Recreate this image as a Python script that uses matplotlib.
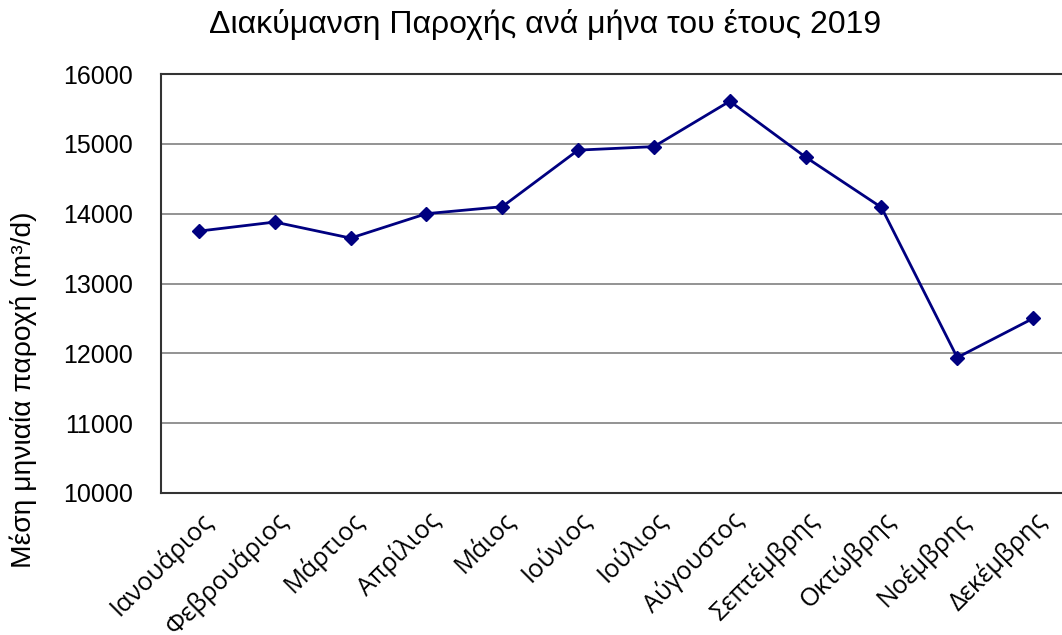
import matplotlib
matplotlib.use("Agg")
import matplotlib.pyplot as plt

months = ["Ιανουάριος", "Φεβρουάριος", "Μάρτιος", "Απρίλιος", "Μάιος", "Ιούνιος",
          "Ιούλιος", "Αύγουστος", "Σεπτέμβρης", "Οκτώβρης", "Νοέμβρης", "Δεκέμβρης"]
flow = [13750, 13880, 13650, 14000, 14100, 14910,
        14960, 15610, 14810, 14090, 11940, 12500]
yticks = [10000, 11000, 12000, 13000, 14000, 15000, 16000]

plt.rcParams['font.family'] = ['Liberation Sans', 'DejaVu Sans']

fig = plt.figure(figsize=(10.62, 6.35), dpi=100)
ax = fig.add_axes([161/1062, 1 - 493/635, (1071 - 161)/1062, (493 - 74)/635])

x = list(range(len(months)))
ax.plot(x, flow, color='#000080', lw=2, marker='D', ms=7.5)

ax.set_xlim(-0.5, len(months) - 0.5)
ax.set_ylim(10000, 16000)
ax.set_yticks(yticks)
ax.yaxis.grid(True, color='#808080', lw=1.2)
ax.set_axisbelow(True)
ax.tick_params(axis='y', labelsize=18, length=0, pad=20)
ax.tick_params(axis='x', length=0, pad=10)
ax.set_xticks(x)
ax.set_xticklabels(months, rotation=45, ha='right', rotation_mode='anchor',
                   fontsize=18.3, family=['Open Sans', 'DejaVu Sans'])
for s in ax.spines.values():
    s.set_color('#333333')
    s.set_linewidth(1.5)

# y label sits lower than the axes centre in the original
fig.text(23/1062, 1 - 390/635, 'Μέση μηνιαία παροχή (m³/d)', fontsize=20.3,
         rotation=90, ha='center', va='center')
fig.text(545/1062, 1 - 24/635, 'Διακύμανση Παροχής ανά μήνα του έτους 2019',
         fontsize=23, ha='center', va='center')

fig.savefig('out.png', dpi=100)
